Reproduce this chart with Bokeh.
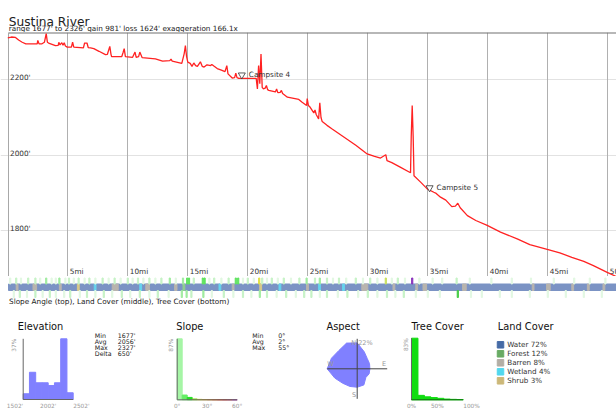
import numpy as np
from bokeh.plotting import figure
from bokeh.models import Range1d, FixedTicker, Grid
from bokeh.layouts import column
from bokeh.embed import file_html
from bokeh.resources import INLINE
from bokeh.core.properties import value

FONT = value("DejaVu Sans")

# ---------------- data ----------------
title_text = "Sustina River"
subtitle_text = "range 1677' to 2326'  gain 981'  loss 1624'  exaggeration 166.1x"

profile_miles = [0.0, 0.3, 0.64, 0.9, 1.2, 1.5, 2.0, 2.45, 2.5, 2.6, 2.85, 3.05, 3.2, 3.3, 3.4,
                 3.97, 4.2, 4.25, 4.35, 4.5, 4.6, 4.7, 4.8, 4.95, 5.3, 5.4, 5.5, 6.3, 6.4, 6.6,
                 6.7, 6.9, 7.17, 7.6, 8.14, 8.3, 8.5, 8.6, 8.65, 9.5, 9.6, 9.7, 9.8, 10.4, 10.6,
                 10.7, 10.9, 11.0, 11.2, 12.3, 12.9, 13.5, 13.6, 13.7, 14.5, 14.7, 14.8, 14.9,
                 15.0, 15.2, 15.35, 15.5, 15.65, 15.8, 16.05, 16.2, 16.36, 16.6, 16.9, 17.0, 17.2,
                 17.45, 17.8, 18.1, 18.25, 18.35, 18.7, 18.9, 19.0, 19.1, 19.25, 20.5, 20.7, 20.8,
                 20.9, 21.0, 21.1, 21.2, 21.3, 21.45, 21.55, 21.65, 21.75, 22.3, 22.4, 22.5, 22.7,
                 22.8, 22.9, 23.3, 24.25, 24.5, 24.9, 24.95, 25.05, 25.2, 25.5, 25.6, 25.7, 25.9,
                 26.0, 26.1, 26.2, 26.6, 27.0, 28.0, 29.0, 29.95, 30.5, 31.06, 31.5, 31.6, 32.0,
                 32.7, 33.56, 33.62, 33.7, 33.78, 33.85, 34.4, 34.95, 35.5, 35.7, 36.06, 36.5,
                 37.0, 37.3, 37.5, 37.7, 38.3, 39.0, 39.95, 41.06, 42.45, 43.5, 44.95, 46.0, 47.0,
                 48.0, 48.8, 49.95, 50.7]
profile_elev = [2312, 2314, 2313, 2306, 2300, 2296, 2296, 2296, 2305, 2296, 2296, 2300, 2323, 2300, 2298,
                2291, 2292, 2300, 2293, 2299, 2292, 2299, 2290, 2287, 2287, 2300, 2287, 2285, 2298, 2298,
                2286, 2285, 2283, 2276, 2267, 2268, 2289, 2268, 2262, 2262, 2272, 2283, 2262, 2260, 2274,
                2260, 2262, 2274, 2259, 2256, 2250, 2251, 2255, 2250, 2244, 2270, 2291, 2262,
                2247, 2244, 2236, 2245, 2238, 2236, 2248, 2236, 2234, 2240, 2238, 2241, 2236,
                2230, 2226, 2222, 2238, 2216, 2205, 2206, 2218, 2206, 2204, 2204, 2204, 2176,
                2238, 2190, 2269, 2180, 2176, 2178, 2185, 2174, 2172, 2168, 2176, 2166, 2167,
                2172, 2164, 2154, 2148, 2141, 2132, 2150, 2132, 2127, 2112, 2120, 2108, 2096,
                2139, 2100, 2089, 2079, 2070, 2048, 2026, 2003, 1997, 1992, 2001, 1985, 1980,
                1968, 1953, 2050, 2132, 2050, 1945, 1928, 1910, 1901, 1898, 1888, 1880,
                1863, 1864, 1872, 1860, 1839, 1826, 1813, 1795, 1777, 1762, 1749, 1740, 1728,
                1717, 1706, 1688, 1677]

mile_ticks = [5, 10, 15, 20, 25, 30, 35, 40, 45, 50]
mile_labels = ["5mi", "10mi", "15mi", "20mi", "25mi", "30mi", "35mi", "40mi", "45mi", "50mi"]
elev_ticks = [1800, 2000, 2200]
elev_labels = ["1800'", "2000'", "2200'"]

camp_names = ["Campsite 4", "Campsite 5"]
camp_miles = [19.5, 35.15]
camp_elev = [2213, 1913]

# strip colour classes
FA, LI, ME, BR = "#e2f8e2", "#c6f2c6", "#a0eca0", "#5fe35f"
YE, YG, PU = "#e0e040", "#c8e060", "#8833bb"

# slope angle (top row): mile position, colour class
slope_tick_miles = [0.2, 0.7, 1.1, 1.7, 2.3, 2.7, 3.2, 3.65, 4.0, 4.3, 4.8, 5.1, 5.5, 5.9, 6.4, 6.8,
                    7.3, 7.9, 8.4, 8.9, 9.4, 10.0, 10.4, 10.85, 11.3, 11.8, 12.3, 12.8, 13.5, 14.0,
                    14.6, 14.95, 15.1, 15.5, 16.25, 16.4, 16.8, 17.2, 17.8, 18.4, 19.0, 19.2, 19.6,
                    20.0, 20.5, 20.95, 21.2, 21.6, 22.0, 22.5, 23.0, 23.6, 24.3, 24.9, 25.6, 26.0,
                    26.6, 27.1, 27.6, 28.2, 29.0, 29.6, 30.2, 30.8, 31.5, 32.0, 32.5, 33.1, 33.7,
                    34.3, 35.4, 36.2, 37.4, 38.5, 40.3, 42.0, 43.6, 45.5, 47.2, 48.5, 49.8]
slope_tick_colors = [FA, LI, FA, LI, LI, FA, ME, FA, FA, ME, FA, LI, FA, LI, FA, LI,
                     FA, LI, FA, LI, FA, LI, FA, LI, FA, LI, FA, LI, ME, FA,
                     ME, BR, BR, LI, BR, BR, FA, LI, FA, LI, BR, BR, FA,
                     LI, FA, YE, LI, FA, LI, FA, LI, FA, LI, ME, LI, ME,
                     LI, FA, LI, FA, LI, FA, LI, FA, YG, FA, LI, FA, PU,
                     FA, FA, FA, LI, FA, FA, FA, FA, FA, FA, FA, FA]

# land cover (middle row): non-water segments
land_seg_start = [0.7, 2.1, 4.3, 5.8, 7.2, 8.7, 11.0, 11.5, 13.9, 14.6, 17.6, 18.7, 21.0, 22.6,
                  24.9, 25.9, 27.9, 29.5, 32.1, 34.0, 34.6, 37.9, 43.7, 44.9, 47.0, 48.3, 49.6]
land_seg_end = [0.85, 2.4, 4.45, 5.95, 7.35, 9.2, 11.15, 11.8, 14.1, 14.75, 17.75, 18.85, 21.15, 22.75,
                25.05, 26.05, 28.05, 30.0, 32.25, 34.15, 34.9, 38.2, 43.85, 45.2, 47.15, 48.45, 49.75]
land_seg_color = ["#b8b4ae", "#b8b4ae", "#b8b4ae", "#d8c88a", "#66d4ee", "#b8b4ae", "#66d4ee",
                  "#b8b4ae", "#b8b4ae", "#8fcf8f", "#66d4ee", "#b8b4ae", "#d8c88a", "#66d4ee",
                  "#b8b4ae", "#66d4ee", "#66d4ee", "#b8b4ae", "#b8b4ae", "#b8b4ae", "#b8b4ae",
                  "#b8b4ae", "#b8b4ae", "#b8b4ae", "#b8b4ae", "#b8b4ae", "#b8b4ae"]
water_color = "#7b93c4"

# tree cover (bottom row)
TS = "#44cc44"
tree_tick_miles = [0.5, 1.0, 1.6, 2.3, 2.9, 3.5, 4.0, 4.7, 5.2, 6.0, 6.6, 7.3, 8.0, 8.7, 9.5, 10.2,
                   11.0, 11.8, 12.5, 13.4, 14.5, 14.9, 15.3, 16.3, 17.0, 18.0, 18.8, 19.6, 20.3,
                   21.0, 21.6, 22.4, 23.2, 24.0, 24.7, 25.3, 26.0, 26.6, 27.5, 28.3, 29.2, 30.0,
                   30.8, 31.6, 32.3, 33.0, 34.0, 35.0, 36.0, 37.5, 38.6, 39.5, 41.0, 42.0, 43.5,
                   45.0, 46.5, 48.0, 49.5]
tree_tick_colors = [FA, LI, FA, LI, FA, LI, FA, FA, LI, FA, LI, FA, LI, FA, LI, FA,
                    LI, FA, LI, FA, ME, ME, LI, ME, FA, LI, FA, LI, FA,
                    ME, LI, FA, LI, FA, LI, LI, FA, LI, FA, LI, FA, LI,
                    FA, LI, FA, LI, FA, FA, FA, TS, FA, FA, FA, FA, FA,
                    FA, FA, FA, FA]
strip_caption = "Slope Angle (top), Land Cover (middle), Tree Cover (bottom)"

# elevation histogram
elev_edges = [1502, 1627, 1752, 1877, 2002, 2127, 2252, 2377, 2502]
elev_pct = [3.5, 16.6, 10.2, 10.2, 8.5, 10.2, 37.0, 4.1]
elev_axis_vals = [1502, 2002, 2502]
elev_axis_labels = ["1502'", "2002'", "2502'"]
elev_stat_names = ["Min", "Avg", "Max", "Delta"]
elev_stat_vals = ["1677'", "2056'", "2327'", "650'"]

# slope histogram
slope_edges = [0, 5, 10, 15, 20, 25, 30, 35, 40, 45, 50, 55, 60]
slope_pct = [87.0, 6.8, 3.4, 1.2, 0.6, 0.4, 0.25, 0.15, 0.1, 0.05, 0.05, 0.0]
slope_colors = ["#a6f5a6", "#66ee66", "#22dd22", "#88dd22", "#cccc22", "#ddaa22", "#dd8822",
                "#dd6622", "#dd4422", "#cc3333", "#bb3355", "#993399"]
slope_axis_vals = [0, 30, 60]
slope_axis_labels = ["0°", "30°", "60°"]
slope_stat_names = ["Min", "Avg", "Max"]
slope_stat_vals = ["0°", "2°", "55°"]

# aspect rose (16 directions, clockwise from N)
aspect_dirs_deg = [0, 22.5, 45, 67.5, 90, 112.5, 135, 157.5, 180, 202.5, 225, 247.5, 270, 292.5, 315, 337.5]
aspect_pct = [19.0, 13.5, 10.5, 9.8, 9.3, 9.5, 9.0, 12.8, 13.5, 14.0, 15.0, 17.8, 22.0, 20.4, 19.0, 20.4]
aspect_max = 22
aspect_max_label = "22%"

# tree cover histogram
tree_edges = [0, 12.5, 25, 37.5, 50, 62.5, 75, 87.5, 100]
tree_pct = [83.0, 6.0, 4.0, 3.0, 2.0, 1.0, 0.6, 0.4]
tree_axis_vals = [0, 50, 100]
tree_axis_labels = ["0%", "50%", "100%"]

# land cover legend
land_names = ["Water", "Forest", "Barren", "Wetland", "Shrub"]
land_pct = [72, 12, 8, 4, 3]
land_colors = ["#466ba6", "#68ab64", "#b3aea5", "#52d8ee", "#ccb879"]

# ---------------- layout constants (page pixels) ----------------
PAGE_W = 616
H_HEAD, H_PROF, H_BOT = 32, 244, 137
FRAME_X0 = 8                          # page x where the profile starts
BOT_TOP = H_HEAD + H_PROF            # page y of bottom figure top
BOT_BOTTOM = BOT_TOP + H_BOT
PX_PER_MILE = 12.0
MILE_START = 0.058                    # mile value at page x = FRAME_X0


def ly(py):
    return BOT_BOTTOM - py


def lin_range(v0, p0, v1, p1, total):
    k = (p1 - p0) / (v1 - v0)
    start = v0 - p0 / k
    return Range1d(start, start + total / k)


def base_fig(width, height, xr, yr):
    p = figure(width=width, height=height, x_range=xr, y_range=yr, output_backend="svg",
               toolbar_location=None, x_axis_type=None, y_axis_type=None, min_border=0,
               title=None)
    p.outline_line_color = None
    p.background_fill_color = "white"
    p.border_fill_color = "white"
    return p


# ---------------- header ----------------
head = base_fig(PAGE_W, H_HEAD, Range1d(0, PAGE_W), Range1d(0, H_HEAD))
head.text(x=[8.3], y=[H_HEAD - 21.5], text=[title_text], text_font=FONT, text_font_size="12.2px",
          text_color="#222222", text_baseline="alphabetic")
head.text(x=[8.3], y=[H_HEAD - 28.2], text=[subtitle_text], text_font=FONT, text_font_size="7.25px",
          text_color="#222222", text_baseline="alphabetic")

# ---------------- profile ----------------
mi_range = lin_range(MILE_START, FRAME_X0, MILE_START + 1, FRAME_X0 + PX_PER_MILE, PAGE_W)
prof = base_fig(PAGE_W, H_PROF, mi_range, Range1d(1677, 2326))
prof.add_layout(Grid(dimension=1, ticker=FixedTicker(ticks=elev_ticks), grid_line_color="#e2e2e2",
                     grid_line_width=1))
prof.add_layout(Grid(dimension=0, ticker=FixedTicker(ticks=mile_ticks), grid_line_color="#b0b0b0",
                     grid_line_width=1))
# frame border (top and left)
prof.line([MILE_START, mi_range.end], [2326, 2326], line_color="#707070", line_width=2.2)
prof.line([MILE_START, MILE_START], [1677, 2326], line_color="#a8a8a8", line_width=1)
prof.line(profile_miles, profile_elev, line_color="#ff2222", line_width=1.3)
prof.scatter(camp_miles, camp_elev, marker="inverted_triangle", size=7, fill_color="white",
             line_color="#333333", line_width=0.8)
prof.text(camp_miles, camp_elev, text=camp_names, x_offset=7, text_font=FONT, text_font_size="7.3px",
          text_color="#333333", text_baseline="middle")
prof.text(x=[MILE_START] * len(elev_ticks), y=elev_ticks, text=elev_labels, x_offset=1.5, y_offset=-2,
          text_font=FONT, text_font_size="7.3px", text_color="#333333", text_baseline="alphabetic")
prof.text(x=mile_ticks, y=[1677] * len(mile_ticks), text=mile_labels, x_offset=2, y_offset=-1,
          text_font=FONT, text_font_size="7.3px", text_color="#333333", text_baseline="bottom")

# ---------------- bottom area (page-x coordinates) ----------------
bot = base_fig(PAGE_W, H_BOT, Range1d(0, PAGE_W), Range1d(0, H_BOT))
bot.extra_x_ranges = {
    "mi": lin_range(MILE_START, FRAME_X0, MILE_START + 1, FRAME_X0 + PX_PER_MILE, PAGE_W),
    "ex": lin_range(1502, 22.7, 2502, 72.7, PAGE_W),
    "sx": lin_range(0, 176.7, 60, 236.7, PAGE_W),
    "ax": lin_range(0, 356.7, 22, 386.7, PAGE_W),
    "tx": lin_range(0, 411, 100, 462.7, PAGE_W),
}
bot.extra_y_ranges = {
    "ey": lin_range(0, ly(399), 37, ly(338.3), H_BOT),
    "sy": lin_range(0, ly(399.3), 87, ly(338.3), H_BOT),
    "ay": lin_range(0, ly(368.3), 22, ly(338.3), H_BOT),
    "ty": lin_range(0, ly(399.3), 83, ly(337.7), H_BOT),
}

# strip
bot.quad(left=[MILE_START], right=[mi_range.end], bottom=[ly(290)], top=[ly(283.5)], color=water_color,
         x_range_name="mi")
bot.quad(left=land_seg_start, right=land_seg_end, bottom=ly(290), top=ly(283.5), color=land_seg_color,
         x_range_name="mi")
bot.vbar(x=slope_tick_miles, width=0.1, bottom=ly(283.5), top=ly(277.5), color=slope_tick_colors,
         x_range_name="mi")
bot.vbar(x=tree_tick_miles, width=0.1, bottom=ly(297), top=ly(290), color=tree_tick_colors,
         x_range_name="mi")
bot.text(x=[8.5], y=[ly(300.5)], text=[strip_caption], text_font=FONT, text_font_size="7.3px",
         text_color="#222222", text_baseline="middle")

# panel titles
bot.text(x=[17.3, 175.7, 326, 411, 497.3], y=[ly(325.5)] * 5,
         text=["Elevation", "Slope", "Aspect", "Tree Cover", "Land Cover"], text_font=FONT,
         text_font_size="9.8px", text_color="#111111", text_baseline="alphabetic")

LABEL_SIZE = "5.8px"
STAT_SIZE = "6.3px"
GREY = "#999999"
stat_rows = [ly(335.3 + 5.8 * i) for i in range(4)]

# elevation histogram
bot.quad(left=elev_edges[:-1], right=elev_edges[1:], bottom=0, top=elev_pct, color="#8080ff",
         x_range_name="ex", y_range_name="ey")
bot.line([elev_edges[0], elev_edges[0]], [0, max(elev_pct)], line_color="#666666", line_width=1,
         x_range_name="ex", y_range_name="ey")
bot.line([elev_edges[0], elev_edges[-1]], [0, 0], line_color="#666666", line_width=1,
         x_range_name="ex", y_range_name="ey")
bot.text(x=elev_axis_vals, y=[0] * 3, text=elev_axis_labels, y_offset=3,
         text_align=["right", "center", "left"], text_baseline="top", text_font=FONT,
         text_font_size=LABEL_SIZE, text_color=GREY, x_range_name="ex", y_range_name="ey")
bot.text(x=[elev_edges[0]], y=[max(elev_pct)], text=["%d%%" % round(max(elev_pct))], angle=np.pi / 2,
         x_offset=-6, text_align="right", text_baseline="bottom", text_font=FONT,
         text_font_size=LABEL_SIZE, text_color=GREY, x_range_name="ex", y_range_name="ey")
bot.text(x=[94.3] * 4, y=stat_rows, text=elev_stat_names,
         text_font=FONT, text_font_size=STAT_SIZE, text_color="#222222", text_baseline="middle")
bot.text(x=[117.3] * 4, y=stat_rows, text=elev_stat_vals,
         text_font=FONT, text_font_size=STAT_SIZE, text_color="#222222", text_baseline="middle")

# slope histogram
bot.quad(left=slope_edges[:-1], right=slope_edges[1:], bottom=0, top=slope_pct, color=slope_colors,
         x_range_name="sx", y_range_name="sy")
bot.line([slope_edges[0], slope_edges[0]], [0, max(slope_pct)], line_color="#666666", line_width=1,
         x_range_name="sx", y_range_name="sy")
bot.line([slope_edges[0], slope_edges[-1]], [0, 0], line_color="#666666", line_width=1,
         x_range_name="sx", y_range_name="sy")
bot.text(x=slope_axis_vals, y=[0] * 3, text=slope_axis_labels, y_offset=3,
         text_align=["center", "center", "center"], text_baseline="top", text_font=FONT,
         text_font_size=LABEL_SIZE, text_color=GREY, x_range_name="sx", y_range_name="sy")
bot.text(x=[slope_edges[0]], y=[max(slope_pct)], text=["%d%%" % round(max(slope_pct))], angle=np.pi / 2,
         x_offset=-3, text_align="right", text_baseline="bottom", text_font=FONT,
         text_font_size=LABEL_SIZE, text_color=GREY, x_range_name="sx", y_range_name="sy")
bot.text(x=[251.7] * 3, y=stat_rows[:3], text=slope_stat_names,
         text_font=FONT, text_font_size=STAT_SIZE, text_color="#222222", text_baseline="middle")
bot.text(x=[277.7] * 3, y=stat_rows[:3], text=slope_stat_vals,
         text_font=FONT, text_font_size=STAT_SIZE, text_color="#222222", text_baseline="middle")

# aspect rose
th = np.radians(aspect_dirs_deg)
ax_x = list(np.array(aspect_pct) * np.sin(th))
ax_y = list(np.array(aspect_pct) * np.cos(th))
bot.patch(ax_x, ax_y, fill_color="#8080ff", line_color="#8080ff", x_range_name="ax", y_range_name="ay")
bot.line([-aspect_max, aspect_max], [0, 0], line_color="#444444", line_width=1, x_range_name="ax",
         y_range_name="ay")
bot.line([0, 0], [-aspect_max, aspect_max], line_color="#444444", line_width=1, x_range_name="ax",
         y_range_name="ay")
bot.text(x=[0, 0, -aspect_max, aspect_max, 0], y=[aspect_max, aspect_max, 0, 0, -aspect_max],
         text=["N", aspect_max_label, "W", "E", "S"], x_offset=[-1, 1, 0, -1, -1], y_offset=[0, 0, -1, -1, 0],
         text_align=["right", "left", "left", "right", "right"],
         text_baseline=["top", "top", "bottom", "bottom", "bottom"], text_font=FONT,
         text_font_size="6.5px", text_color=GREY, x_range_name="ax", y_range_name="ay")

# tree cover histogram
bot.quad(left=tree_edges[:-1], right=tree_edges[1:], bottom=0, top=tree_pct, color="#11dd11",
         x_range_name="tx", y_range_name="ty")
bot.line([tree_edges[0], tree_edges[0]], [0, max(tree_pct)], line_color="#666666", line_width=1,
         x_range_name="tx", y_range_name="ty")
bot.line([tree_edges[0], tree_edges[-1]], [0, 0], line_color="#116611", line_width=1,
         x_range_name="tx", y_range_name="ty")
bot.text(x=tree_axis_vals, y=[0] * 3, text=tree_axis_labels, y_offset=3,
         text_align=["center", "center", "left"], text_baseline="top", text_font=FONT,
         text_font_size=LABEL_SIZE, text_color=GREY, x_range_name="tx", y_range_name="ty")
bot.text(x=[tree_edges[0]], y=[max(tree_pct)], text=["%d%%" % round(max(tree_pct))], angle=np.pi / 2,
         x_offset=-3, text_align="right", text_baseline="bottom", text_font=FONT,
         text_font_size=LABEL_SIZE, text_color=GREY, x_range_name="tx", y_range_name="ty")

# land cover legend
leg_y = [ly(344.3 + 9 * i) for i in range(len(land_names))]
bot.rect(x=[500] * len(land_names), y=leg_y, width=6.5, height=6.5, color=land_colors)
bot.text(x=[506.7] * len(land_names), y=leg_y,
         text=["%s %d%%" % (n, v) for n, v in zip(land_names, land_pct)], text_font=FONT,
         text_font_size="7.2px", text_color="#333333", text_baseline="middle")

layout = column(head, prof, bot, spacing=0)
open("out.html", "w").write(file_html(layout, INLINE))
